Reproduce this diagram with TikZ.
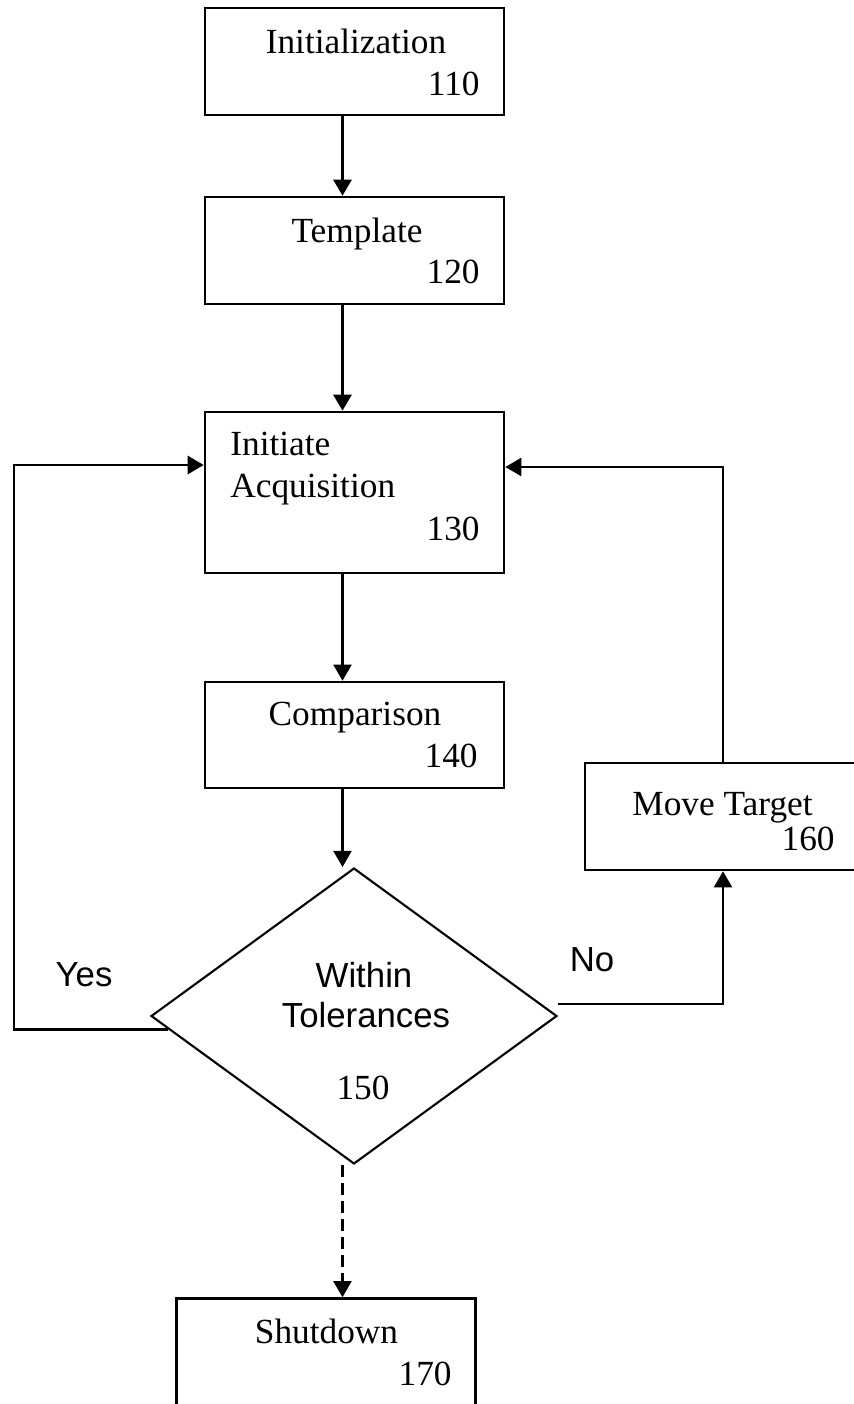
\documentclass[tikz,border=0pt]{standalone}
\usepackage{fontspec}
\setmainfont{Liberation Serif}
\setsansfont{Liberation Sans}
\usetikzlibrary{arrows.meta,shapes.geometric,calc}

\begin{document}
\begin{tikzpicture}[x=0.02cm, y=-0.02cm,
    box/.style={draw, line width=1.5pt, rectangle, minimum width=5.98cm, minimum height=2.14cm, inner sep=0pt},
    txt/.style={font=\fontsize{20.1}{24}\selectfont, inner sep=0pt},
    sans/.style={font=\fontsize{19.8}{24}\selectfont\sffamily, inner sep=0pt},
    arr/.style={-{Triangle[width=0.36cm,length=0.32cm]}, line width=1.6pt},
    arrlight/.style={arr, line width=1.15pt}]
    \useasboundingbox (0,0) rectangle (854,1404);
    \clip (0,0) rectangle (854,1404);
    % main column
    \node[box] (init) at (354.5,61.5) {};
    \node[txt, anchor=base] (initT) at (356,53) {Initialization};
    \node[txt, anchor=base east] (initN) at (480,95) {110};
    \node[box] (tmpl) at (354.5,250.5) {};
    \node[txt, anchor=base] (tmplT) at (357,242) {Template};
    \node[txt, anchor=base east] (tmplN) at (480,283) {120};
    \node[box, minimum height=3.22cm] (acq) at (354.5,492.5) {};
    \node[txt, anchor=base west] (acqT1) at (230,455) {Initiate};
    \node[txt, anchor=base west] (acqT2) at (230,497) {Acquisition};
    \node[txt, anchor=base east] (acqN) at (480,540) {130};
    \node[box, minimum height=2.12cm] (comp) at (354.5,735) {};
    \node[txt, anchor=base] (compT) at (355,725) {Comparison};
    \node[txt, anchor=base east] (compN) at (478,767) {140};
    % decision
    \node[diamond, draw, line width=1.2pt, minimum width=8.12cm, minimum height=5.92cm, inner sep=0pt] (tol) at (354,1016) {};
    \node[sans, anchor=base] (tolT1) at (364,987) {Within};
    \node[sans, anchor=base] (tolT2) at (366,1027) {Tolerances};
    \node[txt, anchor=base] (tolN) at (363,1099) {150};
    \node[sans, anchor=base] (yes) at (84,986) {Yes};
    \node[sans, anchor=base] (no) at (592,971) {No};
    % side and bottom boxes
    \node[box, minimum width=5.52cm] (move) at (723,816.5) {};
    \node[txt, anchor=base] (moveT) at (722.5,815) {Move Target};
    \node[txt, anchor=base east] (moveN) at (835,850) {160};
    \node[box] (shut) at (326,1352) {};
    \node[txt, anchor=base] (shutT) at (326.5,1343) {Shutdown};
    \node[txt, anchor=base east] (shutN) at (452,1385) {170};
    \coordinate (spine) at (342.5,0);
    \coordinate (yesturn) at (14,465);
    \coordinate (noturn) at (723,467);
    % arrows
    \draw[arr] (init.south -| spine) -- (tmpl.north -| spine);
    \draw[arr] (tmpl.south -| spine) -- (acq.north -| spine);
    \draw[arrlight] (acq.south -| spine) -- (comp.north -| spine);
    \draw[arrlight] (comp.south -| spine) -- (tol.north -| spine);
    \draw[arr] ($(tol.west)!0.09!(tol.south)$) -| (yesturn) -- (acq.west |- yesturn);
    \draw[arrlight] ([yshift=0.24cm]tol.east) -| (move.south);
    \draw[arrlight] (move.north) |- (acq.east |- noturn);
    \draw[arrlight, dash pattern=on 0.24cm off 0.12cm] (tol.south -| spine) -- (shut.north -| spine);
\end{tikzpicture}
\end{document}
